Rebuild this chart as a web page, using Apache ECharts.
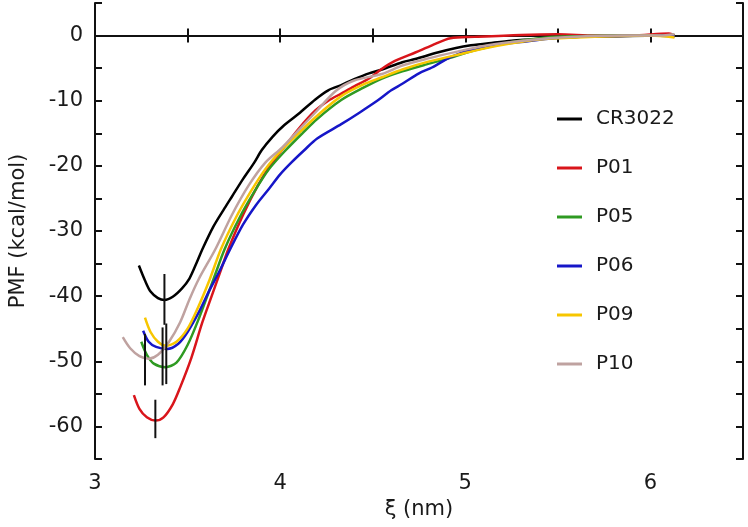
<!DOCTYPE html>
<html>
<head>
<meta charset="utf-8">
<script src="https://cdn.jsdelivr.net/npm/echarts@6/dist/echarts.min.js"></script>
<style>html,body{margin:0;padding:0;background:#fff}#c{width:748px;height:527px}</style>
</head>
<body>
<div id="c"></div>
<script>
const seriesNames = ['CR3022', 'P01', 'P05', 'P06', 'P09', 'P10'];
const seriesColors = ['#000000', '#d9151b', '#2f9a22', '#1616c8', '#f7c600', '#bfa2a0'];

const cr3022 = [[3.237,-35.3],[3.27,-37.6],[3.30,-39.3],[3.34,-40.3],[3.375,-40.6],[3.42,-40.1],[3.47,-38.8],[3.51,-37.3],[3.55,-34.8],[3.58,-32.8],[3.64,-29.3],[3.70,-26.5],[3.74,-24.7],[3.80,-22.0],[3.86,-19.5],[3.90,-17.6],[3.96,-15.5],[4.02,-13.8],[4.10,-12.0],[4.19,-9.8],[4.26,-8.4],[4.33,-7.6],[4.40,-6.7],[4.48,-5.8],[4.55,-5.2],[4.66,-4.1],[4.73,-3.6],[4.85,-2.6],[4.95,-1.9],[5.03,-1.5],[5.15,-1.1],[5.25,-0.8],[5.35,-0.6],[5.50,-0.3],[5.62,-0.2],[5.80,-0.1],[6.00,0.0],[6.10,0.2],[6.13,-0.2]];
const p01 = [[3.21,-55.2],[3.24,-57.3],[3.28,-58.6],[3.326,-59.1],[3.37,-58.6],[3.42,-56.6],[3.46,-54.0],[3.52,-49.5],[3.58,-44.0],[3.63,-40.0],[3.68,-36.0],[3.72,-32.8],[3.80,-27.5],[3.88,-23.0],[3.95,-19.8],[4.02,-17.2],[4.10,-14.3],[4.19,-11.5],[4.26,-10.0],[4.33,-8.9],[4.40,-7.8],[4.48,-6.6],[4.55,-5.1],[4.62,-3.9],[4.73,-2.6],[4.82,-1.5],[4.92,-0.4],[5.05,-0.2],[5.30,0.1],[5.50,0.2],[5.70,0.0],[5.90,0.0],[6.10,0.3],[6.13,0.0]];
const p05 = [[3.25,-47.0],[3.28,-49.0],[3.32,-50.4],[3.38,-50.9],[3.44,-50.2],[3.50,-47.5],[3.56,-43.5],[3.64,-37.4],[3.70,-32.8],[3.78,-28.0],[3.86,-24.0],[3.94,-20.5],[4.03,-17.6],[4.12,-15.0],[4.20,-12.8],[4.33,-9.9],[4.45,-8.0],[4.55,-6.6],[4.66,-5.5],[4.78,-4.5],[4.91,-3.5],[5.00,-2.7],[5.09,-2.0],[5.25,-1.0],[5.44,-0.3],[5.60,-0.1],[5.80,0.0],[6.00,0.0],[6.13,0.1]];
const p06 = [[3.26,-45.3],[3.29,-47.0],[3.33,-47.8],[3.39,-48.1],[3.45,-47.3],[3.50,-45.5],[3.56,-42.5],[3.62,-39.0],[3.67,-36.3],[3.73,-32.8],[3.80,-29.0],[3.87,-26.0],[3.94,-23.5],[4.00,-21.3],[4.06,-19.5],[4.13,-17.6],[4.20,-15.8],[4.33,-13.6],[4.43,-11.8],[4.53,-9.9],[4.60,-8.4],[4.66,-7.4],[4.75,-5.8],[4.82,-4.9],[4.92,-3.3],[5.05,-2.0],[5.18,-1.4],[5.30,-1.0],[5.45,-0.5],[5.62,-0.2],[5.80,-0.1],[6.00,0.0],[6.13,-0.1]];
const p09 = [[3.27,-43.3],[3.30,-45.5],[3.34,-47.0],[3.38,-47.6],[3.44,-47.0],[3.50,-45.0],[3.56,-41.5],[3.62,-37.4],[3.68,-32.8],[3.76,-28.0],[3.84,-24.0],[3.92,-20.5],[4.00,-17.8],[4.10,-15.0],[4.20,-12.3],[4.33,-9.3],[4.45,-7.5],[4.55,-6.4],[4.66,-5.2],[4.80,-4.0],[4.95,-3.0],[5.10,-2.0],[5.25,-1.2],[5.40,-0.6],[5.60,-0.3],[5.80,-0.1],[6.00,0.0],[6.13,-0.3]];
const p10 = [[3.15,-46.3],[3.19,-48.0],[3.24,-49.2],[3.29,-49.6],[3.34,-49.0],[3.40,-47.0],[3.46,-44.0],[3.51,-40.5],[3.56,-37.4],[3.65,-32.8],[3.74,-27.5],[3.83,-23.0],[3.92,-19.5],[4.01,-17.2],[4.10,-14.5],[4.20,-11.5],[4.30,-8.5],[4.40,-6.9],[4.55,-5.9],[4.66,-4.6],[4.80,-3.5],[4.95,-2.5],[5.10,-1.6],[5.25,-1.0],[5.45,-0.4],[5.65,-0.1],[5.85,0.0],[6.05,0.0],[6.13,0.2]];
const seriesData = [cr3022, p01, p05, p06, p09, p10];

// error bars: [x, upper, lower]
const errorBars = [[3.375,-36.6,-44.4],[3.326,-55.9,-61.8],[3.27,-45.8,-53.7],[3.365,-44.8,-53.7],[3.385,-44.2,-53.5]];

const xTickLabels = ['3','4','5','6'];
const yTickLabels = ['0','-10','-20','-30','-40','-50','-60'];

const font = 'DejaVu Sans';
const txt = '#1a1a1a';
const axisCommon = {
  axisLine: {show: true, lineStyle: {color: '#111', width: 2}},
  axisTick: {show: true, inside: true, length: 7, lineStyle: {color: '#111', width: 2}},
  splitLine: {show: false}
};

const chart = echarts.init(document.getElementById('c'), null, {renderer: 'canvas'});
const series = seriesNames.map((n, i) => ({
  name: n, type: 'line', data: seriesData[i], showSymbol: false, smooth: 0.3,
  lineStyle: {color: seriesColors[i], width: 2.5}, itemStyle: {color: seriesColors[i]},
  xAxisIndex: 0, yAxisIndex: 0, z: 2
}));
series.push({
  type: 'custom', name: 'err', xAxisIndex: 0, yAxisIndex: 0, z: 5, silent: true,
  data: errorBars,
  encode: {x: 0, y: [1, 2]},
  renderItem: function (params, api) {
    const a = api.coord([api.value(0), api.value(1)]);
    const b = api.coord([api.value(0), api.value(2)]);
    return {type: 'line', shape: {x1: a[0], y1: a[1], x2: b[0], y2: b[1]}, style: {stroke: '#111', lineWidth: 2}};
  }
});

chart.setOption({
  animation: false,
  backgroundColor: '#fff',
  grid: {left: 92, right: 5, top: 3, bottom: 68},
  legend: {
    data: seriesNames, orient: 'vertical', left: 552, top: 104, itemGap: 29,
    icon: 'rect', itemWidth: 25, itemHeight: 3,
    textStyle: {fontFamily: font, fontSize: 20, color: txt, padding: [0, 0, 0, 9]}
  },
  xAxis: [
    Object.assign({}, axisCommon, {
      type: 'value', min: 3, max: 6.5, interval: 0.5, position: 'bottom',
      name: 'ξ (nm)', nameLocation: 'middle', nameGap: 36,
      nameTextStyle: {fontFamily: font, fontSize: 21, color: txt},
      axisLabel: {fontFamily: font, fontSize: 21, color: txt, margin: 14,
        formatter: v => xTickLabels.includes(String(v)) ? String(v) : ''}
    }),
    Object.assign({}, axisCommon, {
      type: 'value', min: 3, max: 6.5, interval: 0.5, position: 'top', axisLabel: {show: false}
    })
  ],
  yAxis: [
    Object.assign({}, axisCommon, {
      type: 'value', min: -65, max: 5, interval: 5, position: 'left',
      name: 'PMF (kcal/mol)', nameLocation: 'middle', nameGap: 66,
      nameTextStyle: {fontFamily: font, fontSize: 21, color: txt},
      axisLabel: {fontFamily: font, fontSize: 21, color: txt, margin: 12,
        formatter: v => yTickLabels.includes(String(v)) ? String(v) : ''}
    }),
    Object.assign({}, axisCommon, {
      type: 'value', min: -65, max: 5, interval: 5, position: 'right', axisLabel: {show: false}
    })
  ],
  series: series
});
</script>
</body>
</html>
